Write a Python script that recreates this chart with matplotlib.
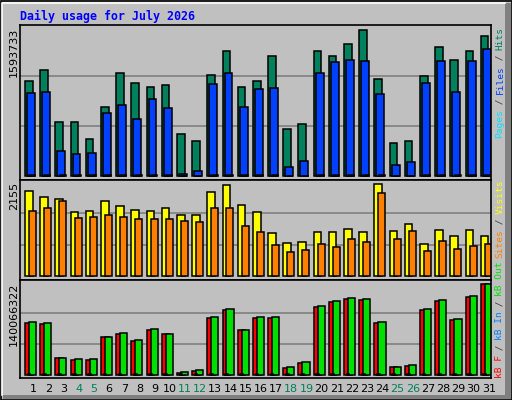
import matplotlib
matplotlib.use("Agg")
import matplotlib.pyplot as plt
from matplotlib.patches import Rectangle

days = list(range(1, 32))
weekend = [4, 5, 11, 12, 18, 19, 25, 26]
hits = [1014, 1130, 577, 577, 397, 736, 1098, 991, 950, 971, 449, 376, 1077, 1332, 950, 1014,
        1278, 504, 556, 1332, 1278, 1406, 1556, 1034, 354, 376, 1066, 1374, 1237, 1332, 1492]
files = [886, 896, 269, 237, 249, 673, 759, 609, 822, 727, 25, 57, 982, 1098, 736, 928,
         939, 99, 163, 1098, 1214, 1237, 1226, 875, 121, 153, 991, 1226, 896, 1226, 1353]
pages = [8, 8, 6, 6, 6, 8, 8, 7, 8, 8, 3, 4, 8, 9, 8, 8, 9, 4, 5, 9, 9, 9, 9, 8, 4, 5, 8, 9, 8, 9, 9]
visits = [1948, 1810, 1765, 1468, 1489, 1720, 1605, 1513, 1489, 1558, 1399, 1399, 1927, 2086, 1627, 1468,
          985, 756, 780, 1009, 1009, 1078, 1009, 2110, 1032, 1192, 733, 1054, 918, 1054, 918]
sites = [1489, 1558, 1720, 1330, 1353, 1399, 1353, 1306, 1306, 1306, 1261, 1237, 1558, 1558, 1146, 1009,
         711, 550, 597, 733, 666, 849, 780, 1903, 849, 1032, 573, 802, 618, 687, 741]
kb_f = [78.3, 76.8, 25.6, 22.6, 22.6, 57.3, 61.8, 51.3, 67.8, 61.8, 3.1, 6.0, 85.9, 97.9, 67.8, 85.9,
        85.9, 10.5, 18.1, 102.4, 110.0, 114.4, 112.9, 78.3, 12.0, 13.6, 97.9, 111.5, 82.8, 117.5, 137.0]
kb_out = [79.8, 78.3, 25.6, 24.1, 24.1, 57.3, 63.3, 52.8, 69.3, 61.8, 4.6, 7.5, 87.4, 99.4, 67.8, 87.4,
          87.4, 12.0, 19.6, 103.9, 111.5, 115.9, 114.4, 79.8, 12.0, 15.1, 99.4, 113.0, 84.3, 119.0, 137.0]
kb_in = [1.0] * 31

HITS_MAX = 1593733
VIS_MAX = 2155
KB_MAX = 140066322

W, H = 512, 400
fig = plt.figure(figsize=(W / 100, H / 100), dpi=100)
fig.patch.set_facecolor("#C0C0C0")
bg = fig.add_axes([0, 0, 1, 1])
bg.set_xlim(0, W); bg.set_ylim(H, 0); bg.axis("off")

# bevel / border
bg.add_patch(Rectangle((0.5, 0.5), W - 1, H - 1, fill=False, ec="black", lw=1.2))
bg.plot([2, 2, 505], [395, 3, 3], color="white", lw=1.2)
bg.add_patch(Rectangle((505, 3), 6, 396, color="#808080", lw=0))
bg.add_patch(Rectangle((3, 395), 508, 4, color="#808080", lw=0))

bg.text(20, 16, "Daily usage for July 2026", color="#0000FF", fontsize=8.4,
        family="DejaVu Sans Mono", fontweight="bold", va="center", ha="left")

L, R = 20, 491
slot = (R - L) / 31

def panel(top, bot, base, tp):
    ax = fig.add_axes([L / W, 1 - bot / H, (R - L) / W, (bot - top) / H])
    ax.set_facecolor("#C0C0C0")
    lo = -(bot - base) / (base - tp)
    hi = (base - top) / (base - tp)
    ax.set_ylim(lo, hi)
    ax.set_xlim(0, 31)
    ax.set_xticks([]); ax.set_yticks([])
    for s in ax.spines.values():
        s.set_color("black"); s.set_linewidth(1.2)
    for g in (1 / 3, 2 / 3):
        ax.axhline(g, color="#808080", lw=1.2, zorder=0)
    return ax

def bars(ax, vals, mx, off, w, color):
    x = [i + off for i in range(31)]
    ax.bar(x, [v / mx for v in vals], width=w, align="edge", color=color,
           edgecolor="black", linewidth=1.1, zorder=2)

ax1 = panel(25, 180, 176, 26)
bars(ax1, hits, HITS_MAX / 1000, 0.33, 0.5, "#00805C")
bars(ax1, files, HITS_MAX / 1000, 0.46, 0.52, "#0040FF")
bars(ax1, pages, HITS_MAX / 1000, 0.6, 0.4, "#00E0FF")

ax2 = panel(180, 280, 276, 182)
bars(ax2, visits, VIS_MAX, 0.33, 0.5, "#FFFF00")
bars(ax2, sites, VIS_MAX, 0.59, 0.46, "#FF8000")

ax3 = panel(280, 378, 375, 282)
bars(ax3, kb_f, KB_MAX / 1e6, 0.33, 0.5, "#FF0000")
bars(ax3, kb_out, KB_MAX / 1e6, 0.59, 0.47, "#00E000")
bars(ax3, kb_in, KB_MAX / 1e6, 0.5, 0.18, "#0080FF")

# y max labels
for y, lab in [(28, str(HITS_MAX)), (182, str(VIS_MAX)), (283, str(KB_MAX))]:
    bg.text(14, y, lab, rotation=90, fontsize=8, va="top", ha="center", color="black")

# day labels
for i, d in enumerate(days):
    bg.text(L + slot * i + 13, 389, str(d), fontsize=8, ha="center", va="center",
            color="#00805C" if d in weekend else "black")

# right legends (read bottom to top)
step = 5.5
def legend(ybot, parts):
    y = ybot
    for txt, col in parts:
        bg.text(500, y, txt, rotation=90, fontsize=6.8, family="DejaVu Sans Mono",
                color=col, ha="center", va="bottom")
        y -= step * len(txt)

legend(138, [("Pages", "#00E0FF"), (" / ", "#404040"), ("Files", "#0040FF"),
             (" / ", "#404040"), ("Hits", "#00805C")])
legend(258, [("Sites", "#FF8000"), (" / ", "#404040"), ("Visits", "#FFFF00")])
legend(378, [("kB F", "#FF0000"), (" / ", "#404040"), ("kB In", "#0080FF"),
             (" / ", "#404040"), ("kB Out", "#00E000")])

fig.savefig("out.png", dpi=100, facecolor=fig.get_facecolor())
